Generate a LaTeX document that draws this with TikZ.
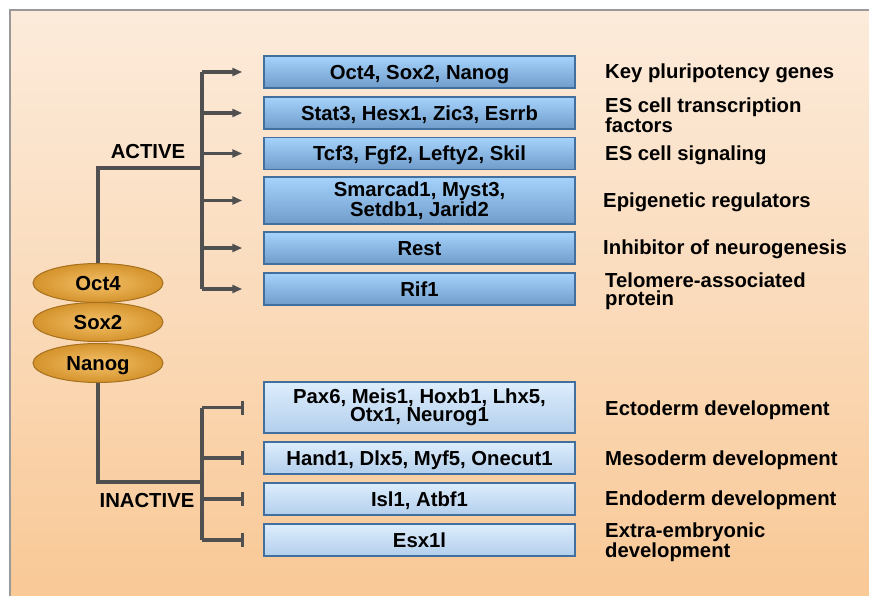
\documentclass[tikz,border=0pt]{standalone}
\usepackage{fontspec}
\setmainfont{Liberation Sans}
\usetikzlibrary{shapes.geometric,arrows.meta}
\definecolor{linegray}{HTML}{505050}
\definecolor{panelborder}{HTML}{9A9A9A}
\definecolor{paneltop}{HTML}{FCEBDB}
\definecolor{panelmid}{HTML}{FADAB9}
\definecolor{panelbot}{HTML}{F9C793}
\definecolor{boxedge}{HTML}{41709E}
\definecolor{upbtop}{HTML}{A6D3FC}
\definecolor{upbbot}{HTML}{6F9CCA}
\definecolor{lowbtop}{HTML}{DDEDFC}
\definecolor{lowbbot}{HTML}{B3CFEC}
\definecolor{ellin}{HTML}{F4C068}
\definecolor{ellout}{HTML}{D4932C}
\definecolor{elledge}{HTML}{A6701E}
\tikzset{
  txt/.style={text height=14.6pt, text depth=0pt},
  gene/.style={draw=boxedge, line width=1.5pt, minimum width=311pt, inner sep=2pt, align=center},
  upbox/.style={gene, top color=upbtop, bottom color=upbbot},
  lowbox/.style={gene, top color=lowbtop, bottom color=lowbbot},
  tf/.style={txt, ellipse, draw=elledge, line width=1pt, minimum width=130pt, minimum height=39pt, inner sep=0pt,
     inner color=ellin, outer color=ellout},
  role/.style={anchor=west, align=left, inner sep=0pt},
  state/.style={txt},
  link/.style={draw=linegray, line width=3.2pt},
  act/.style={link, -{Triangle[length=10pt,width=8pt]}, shorten >=21pt},
  repress/.style={link, -{Bar[width=14pt,line width=3.2pt]}, shorten >=19pt},
}
\begin{document}
\begin{tikzpicture}[x=1pt,y=-1pt, font=\bfseries\fontsize{20.3}{18.5}\selectfont]
\useasboundingbox (0,0) rectangle (869,596);
\clip (0,0) rectangle (869,596);
\fill[white] (0,0) rectangle (869,596);
\path[top color=paneltop, bottom color=panelbot, middle color=panelmid] (10,10) rectangle (900,620);
\draw[panelborder, line width=2pt] (10,620) -- (10,10) -- (900,10);

% transcription factors
\node[tf] (oct) at (98,283) {Oct4};
\node[tf] (sox) at (98,322) {Sox2};
\node[tf] (nanog) at (98,363) {Nanog};

% active targets
\node[upbox, txt, minimum height=32pt] (a1) at (419.5,72) {Oct4, Sox2, Nanog};
\node[upbox, txt, minimum height=32pt] (a2) at (419.5,113) {Stat3, Hesx1, Zic3, Esrrb};
\node[upbox, txt, minimum height=32pt] (a3) at (419.5,153.5) {Tcf3, Fgf2, Lefty2, Skil};
\node[upbox, minimum height=47pt] (a4) at (419.5,200.5) {Smarcad1, Myst3,\\Setdb1, Jarid2};
\node[upbox, txt, minimum height=32pt] (a5) at (419.5,248) {Rest};
\node[upbox, txt, minimum height=32pt] (a6) at (419.5,289) {Rif1};

% inactive targets
\node[lowbox, minimum height=51pt] (b1) at (419.5,407.5) {Pax6, Meis1, Hoxb1, Lhx5,\\Otx1, Neurog1};
\node[lowbox, txt, minimum height=32pt] (b2) at (419.5,458) {Hand1, Dlx5, Myf5, Onecut1};
\node[lowbox, txt, minimum height=32pt] (b3) at (419.5,499) {Isl1, Atbf1};
\node[lowbox, txt, minimum height=32pt] (b4) at (419.5,540) {Esx1l};

% roles
\node[role, txt] (r1) at (605,71) {Key pluripotency genes};
\node[role] (r2) at (605,115) {ES cell transcription\\factors};
\node[role, txt] (r3) at (605,153) {ES cell signaling};
\node[role, txt] (r4) at (603,200) {Epigenetic regulators};
\node[role, txt] (r5) at (603,247) {Inhibitor of neurogenesis};
\node[role] (r6) at (605,291) {Telomere-associated\\protein};
\node[role, txt] (r7) at (605,408) {Ectoderm development};
\node[role, txt] (r8) at (605,458) {Mesoderm development};
\node[role, txt] (r9) at (605,498) {Endoderm development};
\node[role] (r10) at (605,542) {Extra-embryonic\\development};

% state labels
\node[state] (active) at (148,151) {ACTIVE};
\node[state] (inactive) at (147,500) {INACTIVE};

% trunks
\coordinate (tA) at (202,168);
\coordinate (tI) at (202,482);
\draw[link] (oct.north) |- (tA);
\draw[link] (nanog.south) |- (tI);
\draw[link] (a1.west -| tA) -- (a6.west -| tA);
\draw[link] (b1.west -| tI) -- (b4.west -| tI);

\foreach \n in {a1,a2,a3,a4,a5,a6}
  \draw[act] (\n.west -| tA) -- (\n.west);
\foreach \n in {b1,b2,b3,b4}
  \draw[repress] (\n.west -| tI) -- (\n.west);
\end{tikzpicture}
\end{document}
